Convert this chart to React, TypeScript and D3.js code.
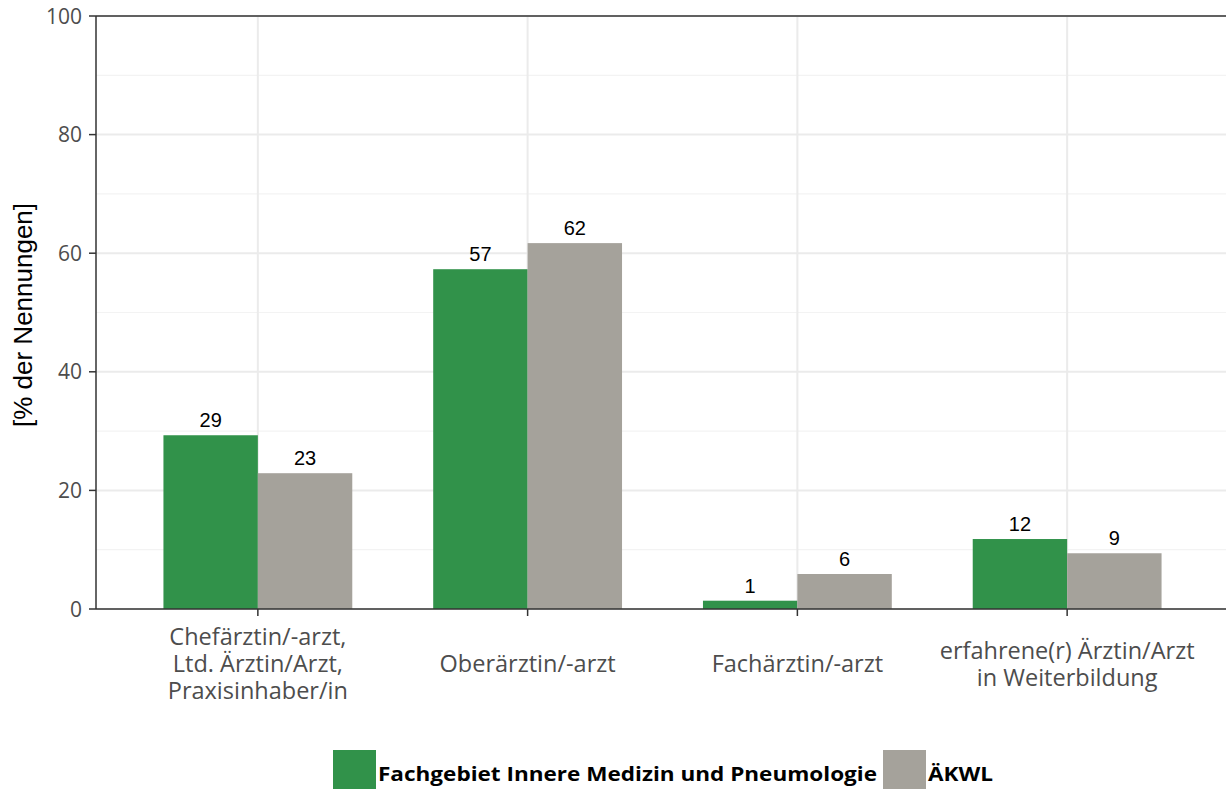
import React from "react";
import * as d3 from "d3";

const categories = [
  ["Chefärztin/-arzt,", "Ltd. Ärztin/Arzt,", "Praxisinhaber/in"],
  ["Oberärztin/-arzt"],
  ["Fachärztin/-arzt"],
  ["erfahrene(r) Ärztin/Arzt", "in Weiterbildung"],
];
const seriesNames = ["Fachgebiet Innere Medizin und Pneumologie", "ÄKWL"];
const fachgebiet = [29.3, 57.3, 1.4, 11.8];
const aekwl = [22.9, 61.7, 5.9, 9.4];
const labelsFach = ["29", "57", "1", "12"];
const labelsAekwl = ["23", "62", "6", "9"];
const yTicks = [0, 20, 40, 60, 80, 100];
const yMinor = [10, 30, 50, 70, 90];
const colors = ["#31924a", "#a5a29b"];

export default function App() {
  const W = 1226, H = 789;
  const left = 96, right = 1229, top = 16, bottom = 609;
  const y = d3.scaleLinear().domain([0, 100]).range([bottom, top]);
  const x = d3.scaleLinear().domain([0.4, 4.6]).range([left, right]);
  const bw = 0.35;
  const series = [fachgebiet, aekwl];
  const labels = [labelsFach, labelsAekwl];
  const grid = "#ebebeb";
  const lineH = 27;
  const midBase = 672;
  return (
    <svg width={W} height={H} style={{ position: "absolute", left: 0, top: 0 }}>
      <rect width={W} height={H} fill="#fff" />
      {yMinor.map((t) => (
        <line key={"m" + t} x1={left} x2={right} y1={y(t)} y2={y(t)} stroke="#f3f3f3" strokeWidth={1.2} />
      ))}
      {yTicks.map((t) => (
        <line key={"g" + t} x1={left} x2={right} y1={y(t)} y2={y(t)} stroke={grid} strokeWidth={2} />
      ))}
      {categories.map((_, i) => (
        <line key={"v" + i} x1={x(i + 1)} x2={x(i + 1)} y1={top} y2={bottom} stroke={grid} strokeWidth={2} />
      ))}
      {series.map((s, si) =>
        s.map((v, i) => {
          const x0 = x(i + 1 - bw + si * bw);
          const x1 = x(i + 1 + si * bw);
          return (
            <g key={si + "-" + i}>
              <rect x={x0} y={y(v)} width={x1 - x0} height={y(0) - y(v)} fill={colors[si]} />
              <text
                x={(x0 + x1) / 2}
                y={y(v) - 8}
                textAnchor="middle"
                fontFamily="Liberation Sans, Arial, sans-serif"
                fontSize={20}
                fill="#000"
              >
                {labels[si][i]}
              </text>
            </g>
          );
        })
      )}
      <line x1={left} x2={right} y1={top} y2={top} stroke="#333" strokeWidth={1.5} />
      <line x1={left} x2={left} y1={top} y2={bottom} stroke="#333" strokeWidth={1.5} />
      <line x1={left} x2={right} y1={bottom} y2={bottom} stroke="#333" strokeWidth={1.5} />
      {yTicks.map((t) => (
        <g key={"t" + t}>
          <line x1={left - 7} x2={left} y1={y(t)} y2={y(t)} stroke="#333" strokeWidth={1.5} />
          <text x={left - 14} y={y(t) + 7.5} textAnchor="end" fontFamily="Open Sans, sans-serif" fontSize={21} fill="#4d4d4d">
            {t}
          </text>
        </g>
      ))}
      {categories.map((lines, i) => (
        <g key={"c" + i}>
          <line x1={x(i + 1)} x2={x(i + 1)} y1={bottom} y2={bottom + 7} stroke="#333" strokeWidth={1.5} />
          {lines.map((l, li) => (
            <text
              key={li}
              x={x(i + 1)}
              y={midBase + (li - (lines.length - 1) / 2) * lineH}
              textAnchor="middle"
              fontFamily="Open Sans, sans-serif"
              fontSize={23.5}
              fill="#4d4d4d"
            >
              {l}
            </text>
          ))}
        </g>
      ))}
      <text
        transform={`translate(32, 315) rotate(-90)`}
        textAnchor="middle"
        fontFamily="Liberation Sans, Arial, sans-serif"
        fontSize={26}
        fill="#000"
      >
        [% der Nennungen]
      </text>
      <rect x={333} y={750} width={43} height={39} fill={colors[0]} />
      <text x={378} y={781} fontFamily="Open Sans, sans-serif" fontWeight="bold" fontSize={19} textLength={499} lengthAdjust="spacingAndGlyphs" fill="#000">
        {seriesNames[0]}
      </text>
      <rect x={883} y={750} width={43} height={39} fill={colors[1]} />
      <text x={928} y={781} fontFamily="Open Sans, sans-serif" fontWeight="bold" fontSize={19} textLength={65} lengthAdjust="spacingAndGlyphs" fill="#000">
        {seriesNames[1]}
      </text>
    </svg>
  );
}
